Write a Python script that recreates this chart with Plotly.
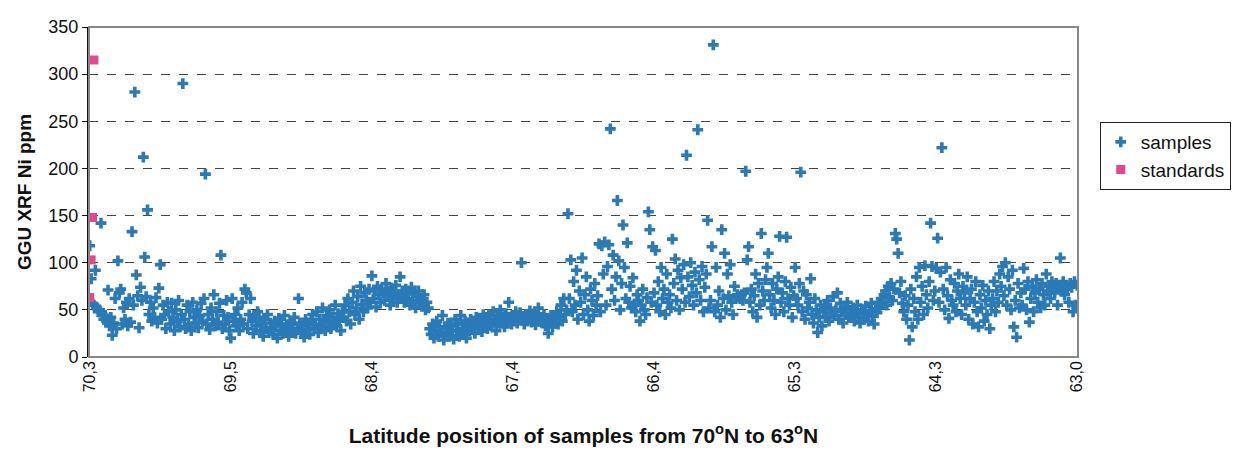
import plotly.graph_objects as go

# Ni ppm for each sample, ordered from 70.3N (index 0) to 63.0N (index 700)
ni_ppm = [
    118, 83, 57, 55, 92, 52, 48, 50, 142, 45, 40, 44, 38, 71, 33, 42, 23, 36, 62, 30,
    102, 68, 72, 35, 52, 40, 58, 33, 62, 37, 133, 55, 281, 87, 65, 31, 74, 60, 212, 106,
    64, 156, 45, 58, 38, 52, 42, 63, 36, 73, 98, 40, 55, 45, 30, 58, 48, 35, 57, 42,
    28, 50, 38, 60, 32, 45, 290, 40, 30, 55, 35, 48, 28, 58, 42, 36, 50, 31, 44, 57,
    38, 62, 194, 35, 45, 29, 52, 40, 66, 33, 48, 37, 57, 108, 30, 44, 35, 60, 42, 28,
    20, 62, 38, 45, 33, 52, 28, 40, 58, 35, 72, 68, 30, 45, 62, 38, 25, 42, 33, 48,
    42, 28, 35, 22, 40, 31, 45, 26, 36, 30, 24, 38, 33, 20, 41, 28, 35, 25, 44, 31,
    32, 22, 38, 28, 35, 42, 25, 30, 62, 36, 27, 33, 21, 40, 29, 34, 24, 38, 45, 30,
    35, 48, 26, 40, 32, 52, 37, 28, 44, 36, 50, 30, 42, 38, 55, 33, 46, 40, 28, 48,
    42, 55, 38, 62, 48, 35, 58, 70, 45, 52, 64, 40, 75, 56, 48, 68, 60, 52, 72, 58,
    86, 62, 70, 53, 75, 66, 58, 72, 68, 60, 78, 65, 70, 55, 73, 62, 68, 76, 58, 66,
    85, 64, 70, 58, 72, 62, 67, 55, 74, 60, 68, 52, 65, 70, 58, 62, 55, 66, 50, 58,
    52, 30, 24, 35, 20, 28, 38, 22, 32, 26, 44, 18, 30, 25, 36, 22, 33, 28, 19, 40,
    28, 35, 22, 44, 30, 25, 38, 20, 33, 28, 40, 31, 36, 25, 42, 34, 30, 38, 27, 45,
    35, 42, 30, 45, 38, 33, 48, 40, 28, 44, 36, 50, 39, 42, 32, 46, 38, 58, 41, 35,
    44, 38, 48, 36, 42, 47, 100, 40, 35, 45, 38, 43, 49, 37, 41, 46, 34, 44, 52, 39,
    42, 36, 45, 33, 40, 25, 38, 44, 32, 41, 36, 48, 35, 43, 55, 38, 62, 45, 50, 152,
    62, 103, 48, 80, 55, 92, 40, 70, 58, 105, 45, 66, 85, 50, 38, 72, 60, 44, 78, 55,
    65, 120, 48, 118, 88, 122, 55, 96, 119, 242, 72, 108, 60, 85, 166, 102, 50, 78, 140, 95,
    62, 121, 58, 75, 52, 84, 56, 48, 66, 60, 38, 55, 72, 50, 45, 63, 154, 135, 58, 117,
    68, 113, 55, 80, 48, 95, 62, 72, 45, 88, 58, 66, 52, 125, 78, 104, 60, 92, 50, 84,
    72, 98, 58, 214, 85, 64, 100, 76, 55, 90, 68, 241, 82, 60, 96, 48, 74, 88, 145, 52,
    60, 117, 331, 48, 95, 55, 70, 42, 135, 62, 110, 50, 88, 65, 98, 58, 45, 75, 62, 66,
    64, 62, 66, 60, 68, 197, 103, 117, 58, 72, 48, 65, 88, 42, 78, 55, 131, 70, 60, 82,
    95, 110, 66, 52, 78, 60, 45, 72, 85, 128, 58, 68, 48, 80, 127, 62, 55, 74, 42, 65,
    95, 62, 55, 78, 196, 48, 70, 40, 66, 52, 58, 83, 45, 36, 62, 50, 26, 42, 55, 33,
    48, 55, 42, 60, 38, 52, 46, 64, 44, 50, 68, 40, 57, 48, 36, 53, 45, 58, 42, 50,
    45, 52, 38, 48, 55, 42, 36, 50, 46, 40, 54, 44, 38, 49, 57, 43, 35, 51, 47, 58,
    52, 62, 58, 66, 70, 55, 75, 63, 78, 60, 72, 131, 125, 110, 68, 80, 57, 48, 65, 40,
    55, 18, 72, 32, 62, 48, 85, 40, 95, 58, 75, 45, 97, 66, 52, 80, 142, 96, 60, 70,
    94, 126, 58, 90, 222, 72, 50, 95, 65, 41, 82, 60, 55, 78, 48, 70, 88, 62, 45, 75,
    68, 55, 85, 40, 62, 72, 35, 58, 80, 48, 32, 66, 52, 76, 38, 60, 45, 70, 30, 55,
    62, 80, 48, 70, 58, 88, 75, 96, 65, 100, 55, 85, 72, 50, 92, 32, 60, 21, 78, 52,
    68, 55, 94, 72, 50, 80, 37, 62, 75, 48, 68, 82, 58, 72, 52, 78, 66, 55, 88, 70,
    75, 62, 80, 72, 68, 78, 55, 74, 105, 70, 80, 66, 76, 72, 58, 78, 74, 48, 80, 55, 76,
]
sample_index = list(range(len(ni_ppm)))

# Reference standards plotted at the start of the sequence
standard_index = [0, 1, 2, 3]
standard_ppm = [63, 103, 148, 315]

# Latitude tick labels (every 100 samples)
tick_index = [0, 100, 200, 300, 400, 500, 600, 700]
tick_labels = ["70,3", "69,5", "68,4", "67,4", "66,4", "65,3", "64,3", "63,0"]

fig = go.Figure()
fig.add_trace(go.Scatter(
    x=sample_index, y=ni_ppm, mode="markers", name="samples",
    marker=dict(symbol="cross", size=9, color="#2a7ab8", line=dict(width=0)),
))
fig.add_trace(go.Scatter(
    x=standard_index, y=standard_ppm, mode="markers", name="standards",
    marker=dict(symbol="square", size=9, color="#e5468c", line=dict(width=0)),
))

fig.update_layout(
    width=1240, height=451,
    margin=dict(l=89, r=162, t=27, b=94, autoexpand=False),
    paper_bgcolor="white", plot_bgcolor="white",
    font=dict(family="Liberation Sans, Arial, sans-serif", color="#111", size=16),
    showlegend=True,
    legend=dict(
        x=1.022, y=0.712, xanchor="left", yanchor="top",
        bordercolor="#222", borderwidth=1, bgcolor="white",
        font=dict(size=19), itemwidth=30, tracegroupgap=2,
    ),
    shapes=[dict(type="rect", xref="paper", yref="paper", x0=0, x1=1, y0=0, y1=1,
                 line=dict(color="#888", width=2), layer="above")],
)
fig.update_xaxes(
    range=[-0.5, 700.5], tickmode="array", tickvals=tick_index, ticktext=tick_labels,
    tickangle=-90, tickfont=dict(size=16), showgrid=False, zeroline=False,
    showline=False, ticks="", automargin=False,
    title=dict(text="<b>Latitude position of samples from 70<sup>o</sup>N to 63<sup>o</sup>N</b>",
               font=dict(size=21), standoff=36),
)
fig.update_yaxes(
    range=[0, 350], tickmode="array", tickvals=[0, 50, 100, 150, 200, 250, 300, 350],
    showgrid=True, gridcolor="#444", griddash="dash", gridwidth=1,
    zeroline=False, showline=True, linecolor="#111", linewidth=2, automargin=False,
    ticks="outside", ticklen=5, tickcolor="#111", tickfont=dict(size=18),
    title=dict(text="<b>GGU XRF Ni ppm</b>", font=dict(size=19), standoff=12),
)

fig.write_html("out.html")
